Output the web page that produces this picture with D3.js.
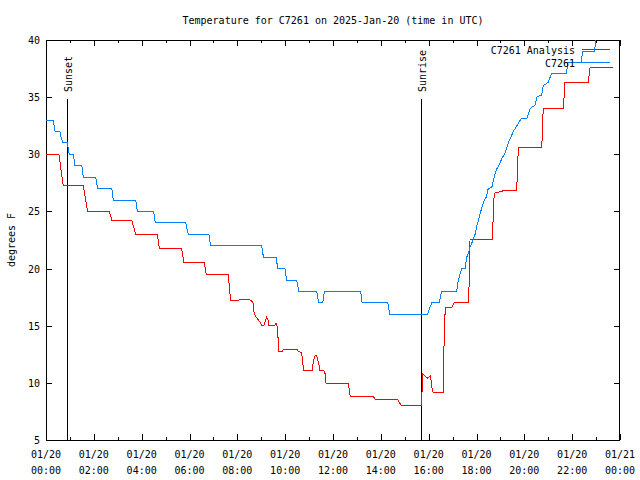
<!DOCTYPE html>
<html><head><meta charset="utf-8">
<script src="https://cdn.jsdelivr.net/npm/d3@7"></script>
<style>
html,body{margin:0;padding:0;background:#fff;}
text{font-family:"DejaVu Sans Mono","Liberation Mono",monospace;font-size:10px;fill:#000;}
</style></head>
<body>
<svg id="chart" width="640" height="480"></svg>
<script>
// ---- data (hour of day UTC, temperature F) ----
const titleText = "Temperature for C7261 on 2025-Jan-20 (time in UTC)";
const yTicks = [5,10,15,20,25,30,35,40];
const xTickHours = [0,2,4,6,8,10,12,14,16,18,20,22,24];
const seriesNames = ["C7261 Analysis","C7261"];
const seriesColors = ["#ff0000","#0080ff"];
const sunEvents = [["Sunset",0.89],["Sunrise",15.68]];

const analysisSeries = [[0,30],[0.54,30],[0.72,27.25],[1.56,27.25],[1.74,25.0],[2.65,25],[2.75,24.25],[3.58,24.25],[3.75,23.0],[4.65,23],[4.74,21.8],[5.67,21.8],[5.76,20.55],[6.62,20.55],[6.70,19.5],[7.62,19.5],[7.72,17.17],[8.03,17.17],[8.08,17.3],[8.50,17.3],[8.60,17.17],[8.67,16.96],[8.70,16.1],[8.77,15.79],[8.88,15.5],[8.95,15.3],[9.02,15.06],[9.11,15.06],[9.16,15.35],[9.23,15.74],[9.29,15.5],[9.32,15.06],[9.57,15.06],[9.62,15.2],[9.67,14.92],[9.74,12.78],[9.88,12.78],[9.95,12.96],[10.48,12.96],[10.55,12.78],[10.69,12.6],[10.77,11.07],[11.13,11.07],[11.18,11.86],[11.25,12.37],[11.29,12.46],[11.34,12.2],[11.40,11.7],[11.46,11.04],[11.62,11.04],[11.67,10.8],[11.71,9.97],[12.64,9.97],[12.72,8.85],[13.68,8.85],[13.76,8.56],[14.70,8.56],[14.80,8.2],[14.87,7.98],[15.68,7.98],[15.69,8.6],[15.72,9.1],[15.75,10.78],[15.80,10.7],[15.88,10.55],[15.94,10.4],[16.01,10.5],[16.08,10.6],[16.15,9.38],[16.19,9.18],[16.61,9.18],[16.63,11.07],[16.65,14.7],[16.70,16.6],[16.96,16.6],[17.06,17.0],[17.66,17.0],[17.69,18.5],[17.73,22.56],[18.66,22.56],[18.74,26.6],[19.11,26.8],[19.68,26.8],[19.75,30.6],[20.73,30.6],[20.79,34.0],[21.63,34.0],[21.70,36.3],[22.67,36.3],[22.75,37.6],[23.71,37.6]];

const observedSeries = [[0,33],[0.30,33],[0.38,32],[0.58,32],[0.63,31.5],[0.70,31],[0.89,31],[0.97,30],[1.14,30],[1.21,29],[1.50,29],[1.56,28],[2.08,28],[2.16,27],[2.75,27],[2.81,26],[3.75,26],[3.82,25],[4.50,25],[4.57,24],[5.84,24],[5.95,23],[6.81,23],[6.88,22],[9.02,22],[9.09,21],[9.62,21],[9.69,20],[9.99,20],[10.06,19],[10.48,19],[10.57,18],[11.32,18],[11.40,17],[11.57,17],[11.64,18],[13.16,18],[13.22,17],[14.29,17],[14.37,16],[15.96,16],[16.03,16.5],[16.13,17],[16.44,17],[16.54,18],[17.17,18],[17.24,19],[17.31,19.5],[17.38,20],[17.52,20],[17.59,21],[17.64,21.2],[17.73,21.9],[17.80,22.2],[17.87,22.6],[17.94,23.0],[18.01,23.7],[18.08,24.2],[18.15,24.8],[18.22,25.3],[18.33,26.0],[18.42,26.3],[18.49,27.0],[18.64,27.1],[18.74,28.0],[18.84,28.7],[18.98,29.2],[19.05,29.6],[19.19,30.1],[19.33,31.0],[19.54,32.0],[19.75,32.7],[19.86,33.1],[20.10,33.1],[20.24,34.0],[20.45,34.3],[20.52,35.0],[20.73,35.2],[20.79,36.0],[21.00,36.3],[21.14,37.1],[21.77,37.1],[21.81,38.0],[22.37,38.0],[22.44,39.0],[22.93,39.0],[23.02,40.4],[23.10,41]];

// ---- layout ----
const L = 46, R = 620, T = 40, B = 440;
const t0 = Date.UTC(2025,0,20,0,0);
const toDate = h => new Date(t0 + h*3600000);

const svg = d3.select("#chart");
const x = d3.scaleUtc().domain([toDate(0), toDate(24)]).range([L, R]);
const y = d3.scaleLinear().domain([5, 40]).range([B, T]);

svg.append("defs").append("clipPath").attr("id","clip")
  .append("rect").attr("x",L).attr("y",T).attr("width",R-L).attr("height",B-T);

// title
svg.append("text").attr("x",(L+R)/2).attr("y",24).attr("text-anchor","middle").text(titleText);

// ticks
const g = svg.append("g").attr("shape-rendering","crispEdges").attr("stroke","#000").attr("stroke-width",1);
const minorHours = d3.range(1,24,2);
xTickHours.forEach(h => {
  const px = Math.round(x(toDate(h))) + 0.5;
  g.append("line").attr("x1",px).attr("x2",px).attr("y1",B).attr("y2",B-6);
  g.append("line").attr("x1",px).attr("x2",px).attr("y1",T).attr("y2",T+6);
});
minorHours.forEach(h => {
  const px = Math.round(x(toDate(h))) + 0.5;
  g.append("line").attr("x1",px).attr("x2",px).attr("y1",B).attr("y2",B-3);
  g.append("line").attr("x1",px).attr("x2",px).attr("y1",T).attr("y2",T+3);
});
yTicks.forEach(v => {
  const py = Math.round(y(v)) + 0.5;
  g.append("line").attr("x1",L).attr("x2",L+6).attr("y1",py).attr("y2",py);
  g.append("line").attr("x1",R).attr("x2",R-6).attr("y1",py).attr("y2",py);
});

// tick labels
const fmtDate = d3.utcFormat("%m/%d"), fmtTime = d3.utcFormat("%H:%M");
xTickHours.forEach(h => {
  const d = toDate(h), px = x(d);
  svg.append("text").attr("x",px).attr("y",458).attr("text-anchor","middle").text(fmtDate(d));
  svg.append("text").attr("x",px).attr("y",474).attr("text-anchor","middle").text(fmtTime(d));
});
yTicks.forEach(v => {
  svg.append("text").attr("x",40).attr("y",y(v)+4).attr("text-anchor","end").text(v);
});

// y label
svg.append("text").attr("transform","translate(15,240) rotate(-90)").attr("text-anchor","middle").text("degrees F");

// sun events
sunEvents.forEach(([name,h]) => {
  const px = Math.round(x(toDate(h))) + 0.5;
  g.append("line").attr("x1",px).attr("x2",px).attr("y1",y(34.8)).attr("y2",B);
  svg.append("text").attr("transform",`translate(${px+4.5},92) rotate(-90)`).attr("text-anchor","start").text(name);
});

// lines
const line = d3.line().x(d => x(toDate(d[0]))).y(d => y(d[1]));
const plot = svg.append("g").attr("clip-path","url(#clip)");
[analysisSeries, observedSeries].forEach((s,i) => {
  plot.append("path").attr("d", line(s)).attr("fill","none")
    .attr("stroke", seriesColors[i]).attr("stroke-width",1)
    .attr("shape-rendering","crispEdges");
});

// legend (drawn on top)
const lg = svg.append("g").attr("shape-rendering","crispEdges");
seriesNames.forEach((n,i) => {
  const ly = 49.5 + i*13;
  lg.append("text").attr("x",575).attr("y",ly+4).attr("text-anchor","end").text(n);
  lg.append("line").attr("x1",582).attr("x2",610).attr("y1",ly).attr("y2",ly)
    .attr("stroke",seriesColors[i]).attr("stroke-width",1);
});

// border
g.append("rect").attr("x",L+0.5).attr("y",T+0.5).attr("width",R-L-1).attr("height",B-T).attr("fill","none");
</script>
</body></html>
